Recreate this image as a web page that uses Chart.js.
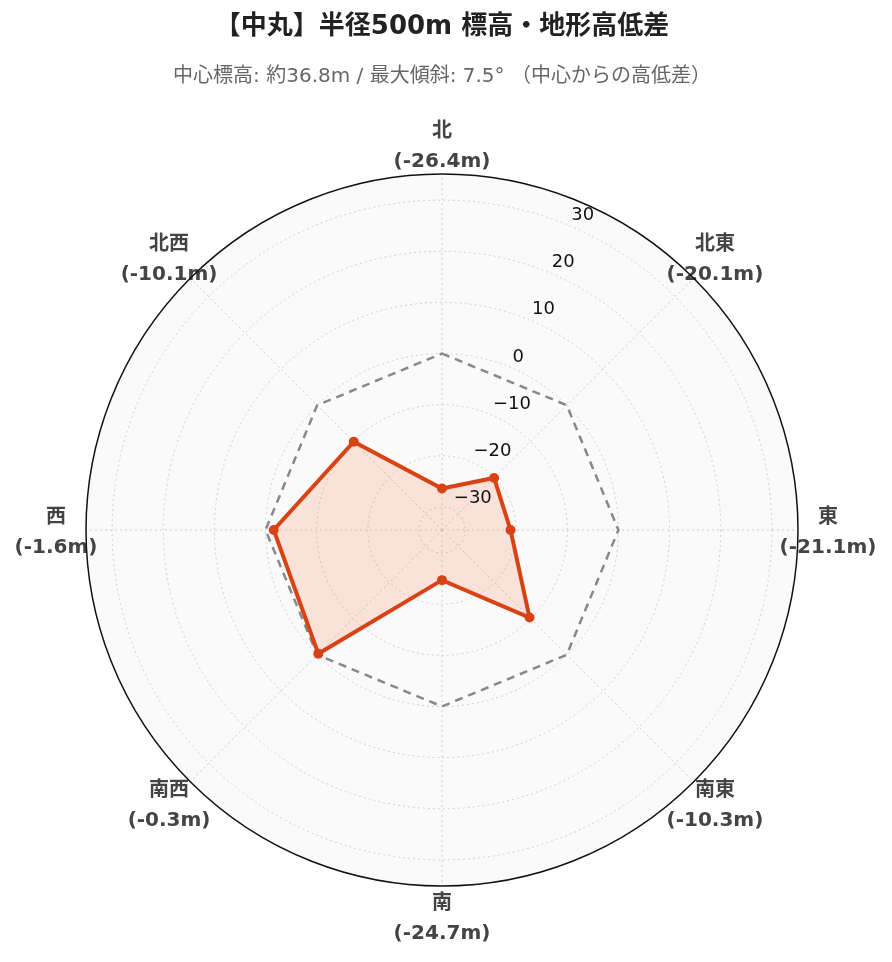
<!DOCTYPE html>
<html>
<head>
<meta charset="utf-8">
<script src="https://cdn.jsdelivr.net/npm/chart.js@4.4.1/dist/chart.umd.min.js"></script>
<style>
  body { margin: 0; background: #fff; }
  #wrap { width: 892px; height: 962px; }
</style>
</head>
<body>
<div id="wrap"><canvas id="radar" width="892" height="962"></canvas></div>
<script>
// 方位ごとの高低差 (中心からの差, m)
const directions = ['北', '北東', '東', '南東', '南', '南西', '西', '北西'];
const heightDiff = [-26.4, -20.1, -21.1, -10.3, -24.7, -0.3, -1.6, -10.1];
const zeroLine = [0, 0, 0, 0, 0, 0, 0, 0];
const tickValues = [-30, -20, -10, 0, 10, 20, 30];
const rMin = -34.5;
const rMax = 35.1;

const fontFamily = "'DejaVu Sans', 'Noto Sans CJK JP', sans-serif";

function minus(v) {
    return String(v).replace('-', '\u2212');
}

// 目盛りラベル (北と北東の間) ・方位ラベル・外枠
const decoPlugin = {
    id: 'deco',
    afterDraw(chart) {
        const scale = chart.scales.r;
        const ctx = chart.ctx;
        const cx = scale.xCenter, cy = scale.yCenter;

        ctx.save();
        ctx.font = '18px ' + fontFamily;
        ctx.fillStyle = '#111';
        ctx.textAlign = 'left';
        ctx.textBaseline = 'middle';
        const a = Math.PI / 8;
        tickValues.forEach(v => {
            const d = scale.getDistanceFromCenterForValue(v);
            const x = cx + Math.sin(a) * d + 3;
            const y = cy - Math.cos(a) * d - 10;
            ctx.fillText(minus(v), x, y);
        });

        ctx.font = 'bold 20px ' + fontFamily;
        ctx.fillStyle = '#444';
        ctx.textAlign = 'center';
        directions.forEach((name, i) => {
            const p = scale.getPointPosition(i, scale.drawingArea + 30);
            ctx.fillText(name, p.x, p.y - 12);
            ctx.fillText('(' + heightDiff[i].toFixed(1) + 'm)', p.x, p.y + 18);
        });

        ctx.beginPath();
        ctx.arc(cx, cy, scale.drawingArea, 0, Math.PI * 2);
        ctx.strokeStyle = '#111';
        ctx.lineWidth = 1.5;
        ctx.stroke();
        ctx.restore();
    }
};

const ctx = document.getElementById('radar');

new Chart(ctx, {
    type: 'radar',
    data: {
        labels: directions,
        datasets: [{
            label: '高低差',
            data: heightDiff,
            borderColor: '#d84315',
            backgroundColor: 'rgba(255, 87, 34, 0.15)',
            borderWidth: 4,
            pointRadius: 5,
            pointBackgroundColor: '#d84315',
            pointBorderColor: '#d84315',
            pointBorderWidth: 0,
            fill: 'start',
            tension: 0
        }, {
            label: '基準 (0m)',
            data: zeroLine,
            borderColor: '#888',
            borderWidth: 2.5,
            borderDash: [8, 6],
            pointRadius: 0,
            fill: false,
            tension: 0
        }]
    },
    options: {
        responsive: false,
        animation: false,
        layout: {
            padding: { left: 86, right: 94, top: 0, bottom: 76 }
        },
        plugins: {
            legend: { display: false },
            tooltip: { enabled: false },
            title: {
                display: true,
                text: '【中丸】半径500m 標高・地形高低差',
                color: '#222',
                font: { family: fontFamily, size: 26, weight: 'bold' },
                padding: { top: 11.4, bottom: 0 }
            },
            subtitle: {
                display: true,
                text: '中心標高: 約36.8m / 最大傾斜: 7.5° （中心からの高低差）',
                color: '#666',
                font: { family: fontFamily, size: 20 },
                padding: { top: 21.9, bottom: 85.5 }
            }
        },
        scales: {
            r: {
                min: rMin,
                max: rMax,
                backgroundColor: '#fafafa',
                ticks: {
                    display: false,
                    stepSize: 10,
                    includeBounds: false
                },
                grid: {
                    circular: true,
                    color: '#d0d0d0',
                    lineWidth: 1
                },
                border: {
                    dash: [2, 3]
                },
                angleLines: {
                    color: '#d0d0d0',
                    lineWidth: 1,
                    borderDash: [2, 3]
                },
                pointLabels: { display: false }
            }
        }
    },
    plugins: [decoPlugin]
});
</script>
</body>
</html>
